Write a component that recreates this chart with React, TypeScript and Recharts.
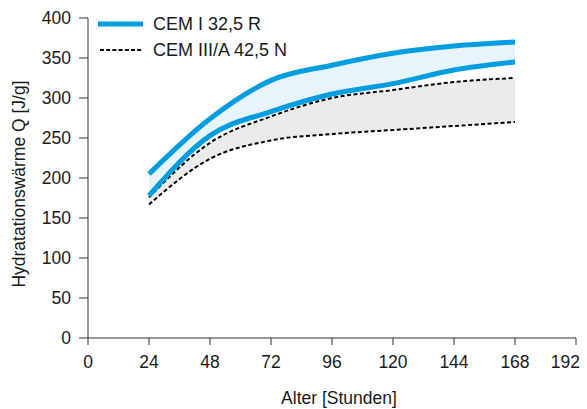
import React from "react";
import {
  ComposedChart,
  Area,
  Line,
  XAxis,
  YAxis,
} from "recharts";

const hours = [24, 48, 72, 96, 120, 144, 168];
const cem1Upper = [205, 274, 322, 341, 356, 365, 370];
const cem1Lower = [178, 253, 283, 305, 318, 335, 345];
const cem3Upper = [176, 244, 277, 300, 310, 320, 325];
const cem3Lower = [167, 224, 247, 255, 260, 265, 270];

const xTicks = [0, 24, 48, 72, 96, 120, 144, 168, 192];
const yTicks = [0, 50, 100, 150, 200, 250, 300, 350, 400];

const BLUE = "#009ee0";
const FONT = "'Liberation Sans', Arial, sans-serif";
const TEXT = "#1a1a1a";

const data = hours.map((h, i) => ({
  h,
  c1u: cem1Upper[i],
  c1l: cem1Lower[i],
  c3u: cem3Upper[i],
  c3l: cem3Lower[i],
  c1: [cem1Lower[i], cem1Upper[i]],
  c3: [cem3Lower[i], cem3Upper[i]],
}));

// last label would run off the right edge, so anchor it at its end
function XTick(props: any) {
  const { x, y, payload } = props;
  const last = payload.value === 192;
  return (
    <text
      x={last ? x + 4 : x}
      y={y}
      dy="0.71em"
      textAnchor={last ? "end" : "middle"}
      fontSize={17.5}
      fill={TEXT}
      fontFamily={FONT}
    >
      {payload.value}
    </text>
  );
}

function XTitle() {
  return (
    <text x={339} y={404} textAnchor="middle" fontSize={17.5} fill={TEXT} fontFamily={FONT}>
      Alter [Stunden]
    </text>
  );
}

function YTitle() {
  return (
    <text
      x={19}
      y={184}
      transform="rotate(-90,19,184)"
      textAnchor="middle"
      dominantBaseline="central"
      fontSize={17.5}
      fill={TEXT}
      fontFamily={FONT}
    >
      Hydratationswärme Q [J/g]
    </text>
  );
}

function LegendBox() {
  return (
    <div style={{ position: "absolute", left: 96, top: 11, fontFamily: FONT, fontSize: 18, color: TEXT, lineHeight: "20px" }}>
      <div style={{ display: "flex", alignItems: "center", height: 26 }}>
        <svg width={49} height={10}>
          <line x1={2} y1={5} x2={47} y2={5} stroke={BLUE} strokeWidth={5} />
        </svg>
        <span style={{ marginLeft: 8 }}>CEM I 32,5 R</span>
      </div>
      <div style={{ display: "flex", alignItems: "center", height: 26 }}>
        <svg width={49} height={10}>
          <line x1={4} y1={5} x2={47} y2={5} stroke="#000" strokeWidth={2} strokeDasharray="4 2.2" />
        </svg>
        <span style={{ marginLeft: 8 }}>CEM III/A 42,5 N</span>
      </div>
    </div>
  );
}

export default function App() {
  const tick = { fontSize: 17.5, fill: TEXT, fontFamily: FONT };
  return (
    <div style={{ position: "absolute", left: 0, top: 0, width: 587, height: 409, background: "#fff" }}>
      <ComposedChart
        width={587}
        height={409}
        data={data}
        margin={{ top: 18, right: 11, bottom: 0, left: 0 }}
      >
        <XAxis
          dataKey="h"
          type="number"
          domain={[0, 192]}
          ticks={xTicks}
          interval={0}
          tick={<XTick />}
          tickSize={7}
          tickMargin={11}
          stroke="#333"
          height={71}
          label={<XTitle />}
        />
        <YAxis
          type="number"
          domain={[0, 400]}
          ticks={yTicks}
          interval={0}
          tick={tick}
          tickSize={9}
          tickMargin={8}
          stroke="#333"
          width={88}
          label={<YTitle />}
        />
        <Area type="monotone" dataKey="c1" fill="#e8f4fb" fillOpacity={1} stroke="none" isAnimationActive={false} legendType="none" />
        <Area type="monotone" dataKey="c3" fill="#ebebeb" fillOpacity={1} stroke="none" isAnimationActive={false} legendType="none" />
        <Line type="monotone" dataKey="c3u" stroke="#000" strokeWidth={2} strokeDasharray="4 2.5" dot={false} isAnimationActive={false} />
        <Line type="monotone" dataKey="c3l" stroke="#000" strokeWidth={2} strokeDasharray="4 2.5" dot={false} isAnimationActive={false} />
        <Line type="monotone" dataKey="c1u" stroke={BLUE} strokeWidth={5} dot={false} isAnimationActive={false} />
        <Line type="monotone" dataKey="c1l" stroke={BLUE} strokeWidth={5} dot={false} isAnimationActive={false} />
      </ComposedChart>
      <LegendBox />
    </div>
  );
}
